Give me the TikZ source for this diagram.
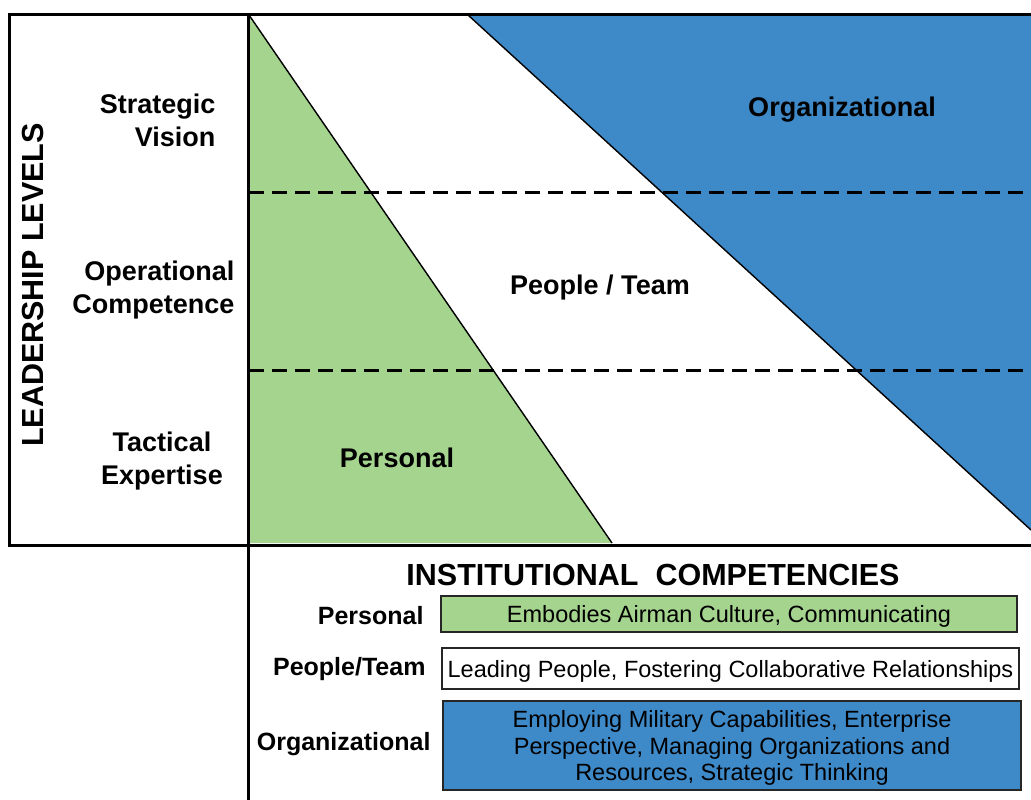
\documentclass[tikz,border=0pt]{standalone}
\usepackage{fontspec}
\setmainfont{Liberation Sans}
\usetikzlibrary{positioning}

\definecolor{persgreen}{RGB}{164,212,142}
\definecolor{orgblue}{RGB}{62,137,200}

\begin{document}
\begin{tikzpicture}[
    x=1pt, y=-1pt,
    frame/.style={line width=3pt},
    edge/.style={line width=1.4pt},
    level/.style={line width=3pt, dash pattern=on 15pt off 8pt},
    big/.style={font=\fontsize{27}{33}\selectfont\bfseries},
    title/.style={font=\fontsize{30.5}{36}\selectfont\bfseries},
    lab/.style={font=\fontsize{25}{30}\selectfont\bfseries, anchor=east},
    compbox/.style={draw=black!85, line width=1.8pt, inner sep=0pt,
      text depth=0pt, font=\fontsize{23.5}{26.5}\selectfont, align=center}
    ]

    \useasboundingbox (0,0) rectangle (1031,800);

    % regions:
    \fill[persgreen] (249,15) -- (612,543) -- (249,543) -- cycle;
    \fill[orgblue] (468,15) -- (1031,15) -- (1031,530) -- cycle;
    \draw[edge] (249,15) -- (612,543);
    \draw[edge] (468,15) -- (1031,530);

    % level separators:
    \foreach \y in {192,370}
      \draw[level] (249,\y) -- (1031,\y);

    % frame:
    \draw[frame] (1031,15) -- (9,15) -- (9,545) -- (1031,545);
    \draw[frame] (248,15) -- (248,800);

    % leadership levels:
    \node[font=\fontsize{30.5}{36}\selectfont\bfseries, rotate=90] (levels) at (33,285) {LEADERSHIP LEVELS};
    \node[big, anchor=east, align=right] (strat) at (219,120) {Strategic\\Vision};
    \node[big, anchor=east, align=right] (oper) at (238,290) {Operational\\Competence};
    \node[big, align=center] (tact) at (162,461) {Tactical\\Expertise};

    \node[big] (org) at (842,110) {Organizational};
    \node[big] (team) at (600,288) {People / Team};
    \node[big] (pers) at (397,458) {Personal};

    % institutional competencies:
    \node[title] (inst) at (653,575) {INSTITUTIONAL\ \ COMPETENCIES};

    \node[compbox, fill=persgreen, minimum width=576pt, minimum height=36pt]
      (cpers) at (729,614) {Embodies Airman Culture, Communicating};
    \node[compbox, fill=white, minimum width=577pt, minimum height=41pt]
      (cteam) at (730.5,668.5) {Leading People, Fostering Collaborative Relationships};
    \node[compbox, fill=orgblue, minimum width=578pt, minimum height=89pt]
      (corg) at (732,745.5) {Employing Military Capabilities, Enterprise\\
      Perspective, Managing Organizations and\\ Resources, Strategic Thinking};

    \node[lab] (lpers) at (427,616) {Personal};
    \node[lab] (lteam) at (429,669) {People/Team};
    \node[lab] (lorg) at (434,744) {Organizational};

  \end{tikzpicture}
\end{document}
